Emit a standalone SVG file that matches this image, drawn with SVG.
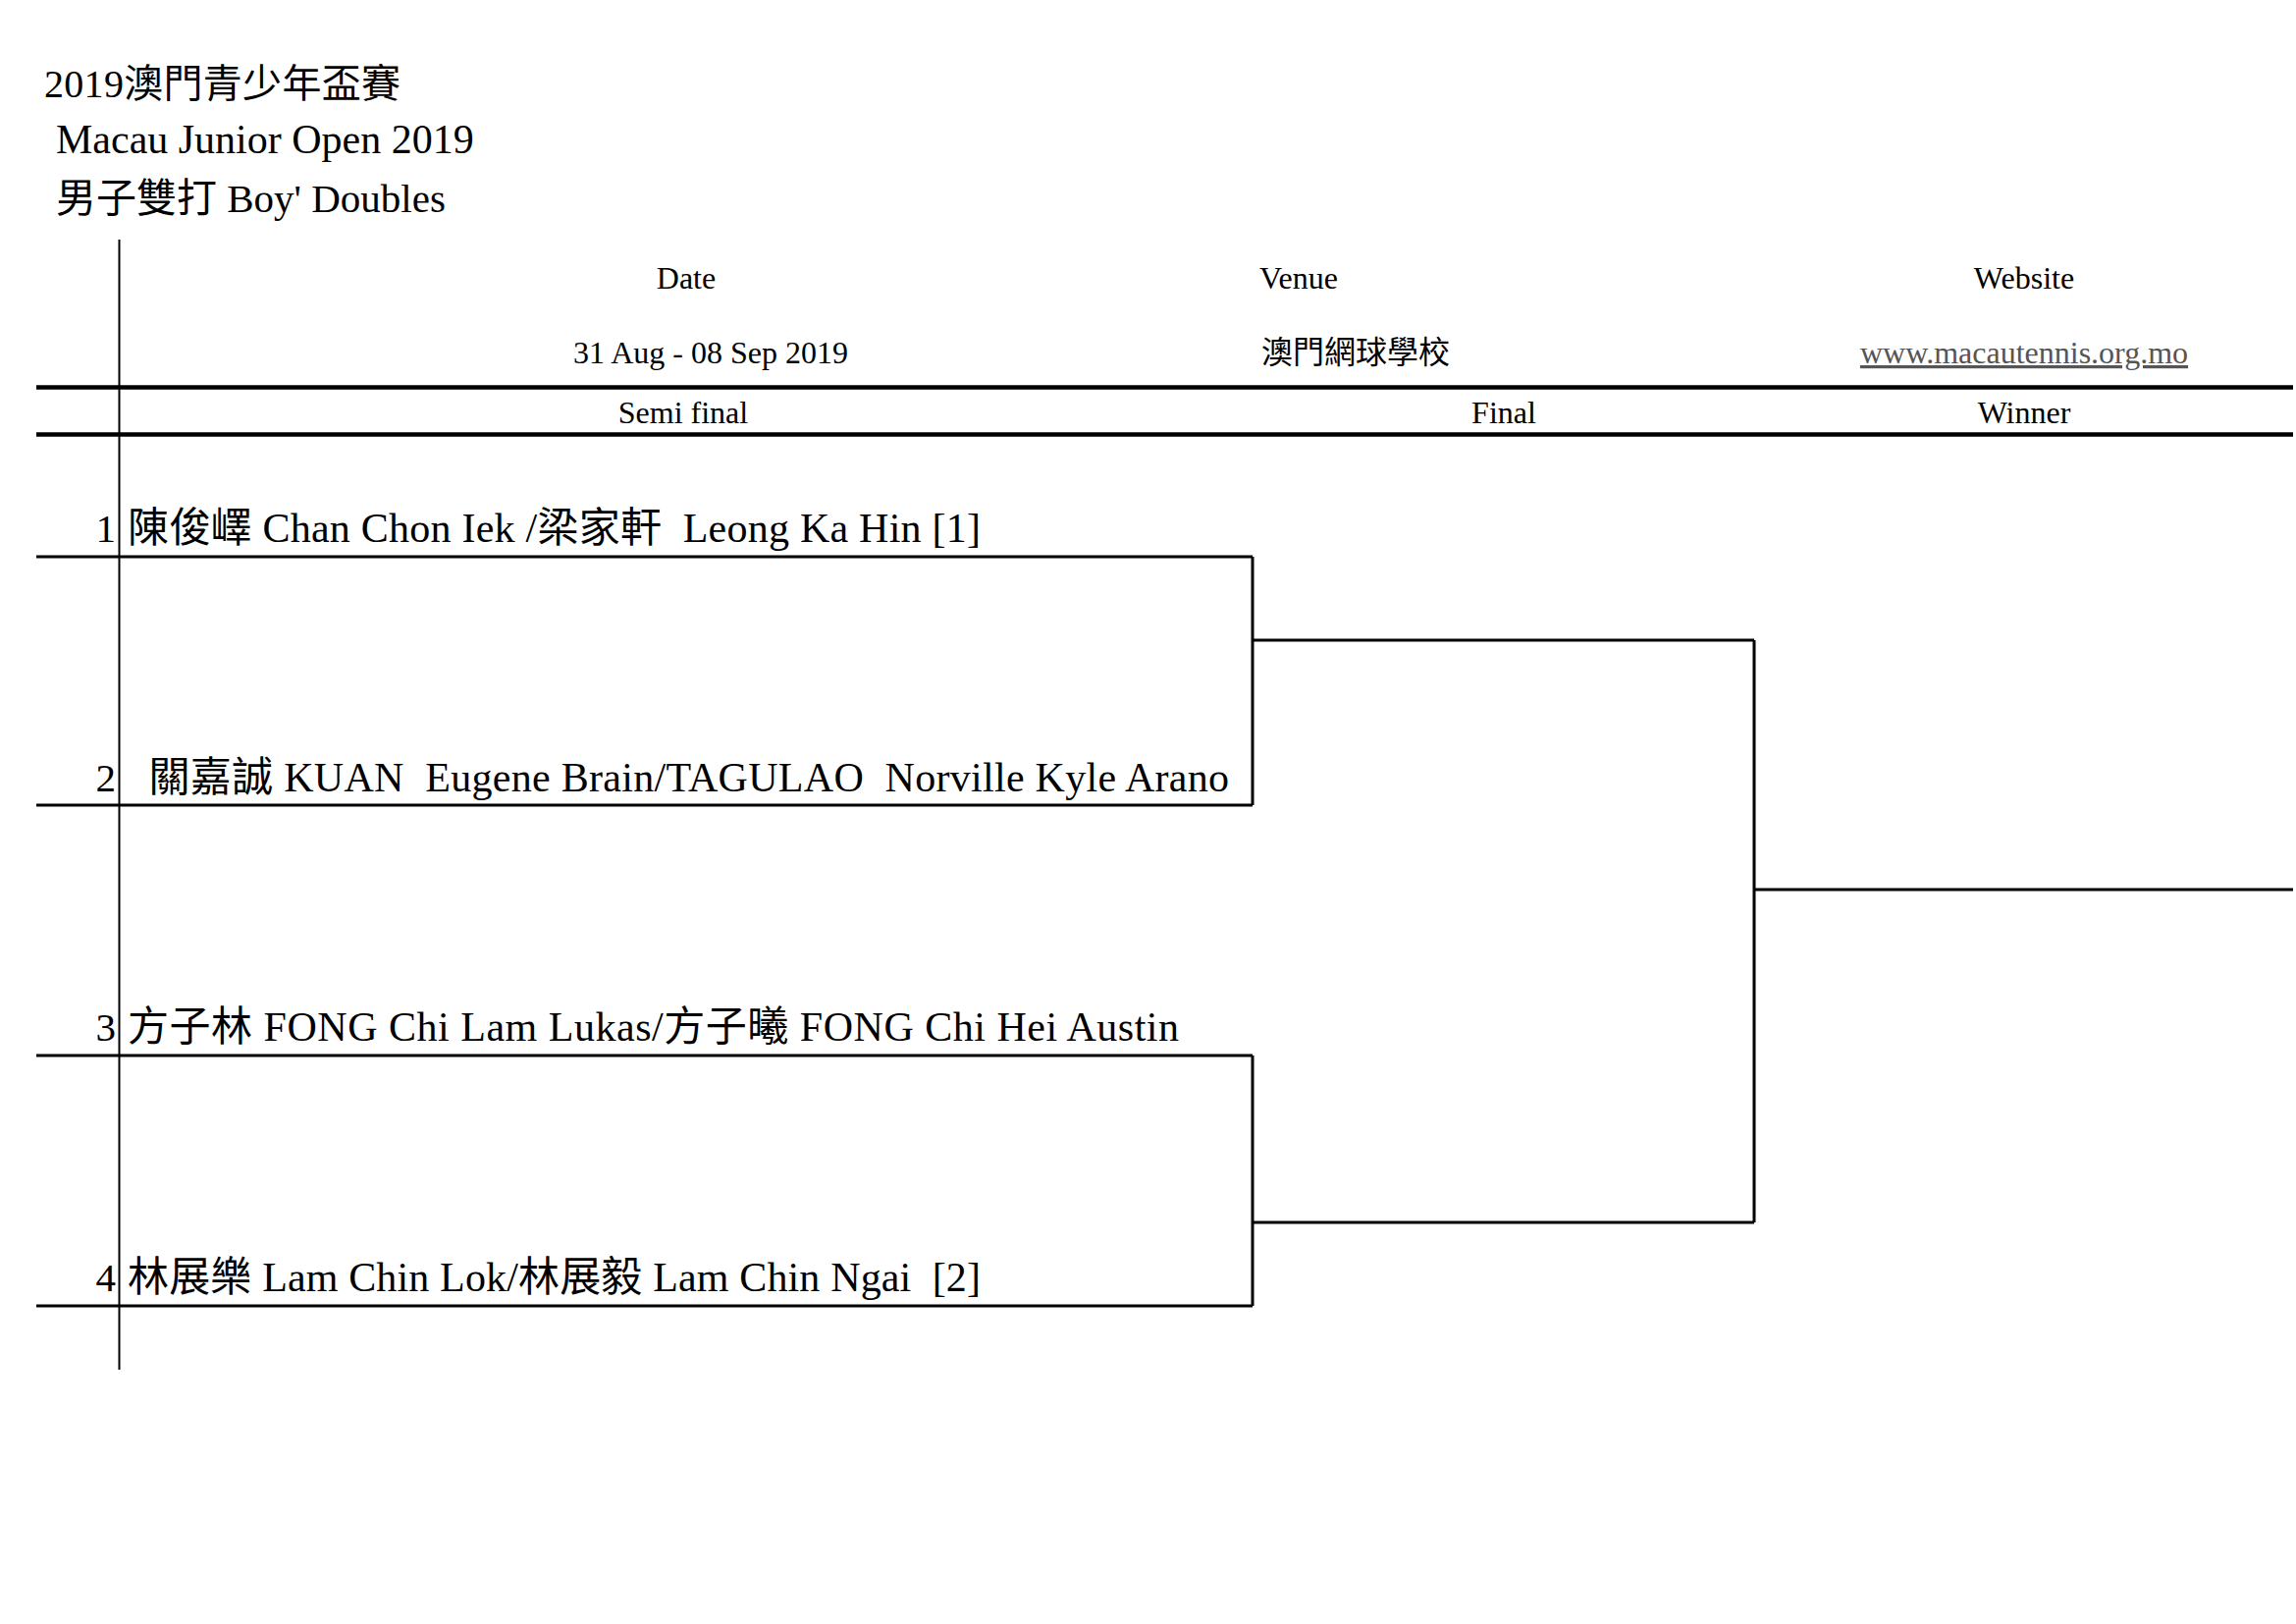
<svg xmlns="http://www.w3.org/2000/svg" width="2339" height="1654" viewBox="0 0 2339 1654">
<style>
text{font-family:"Liberation Serif","Noto Sans CJK TC",serif;fill:#000;white-space:pre}
.t{font-size:41px}
.h{font-size:32px;text-anchor:middle}
.r{font-size:42px}
.n{font-size:41px;text-anchor:end}
.url{fill:#555;text-decoration:underline}
.thick{stroke:#000;stroke-width:4.5;fill:none}
.ln{stroke:#000;stroke-width:3;fill:none}
.thin{stroke:#000;stroke-width:2;fill:none}
</style>
<rect width="2339" height="1654" fill="#fff"/>
<g id="title">
<text class="t" x="45" y="99" style="font-size:40px" textLength="363" lengthAdjust="spacing">2019澳門青少年盃賽</text>
<text class="t" x="57" y="156" style="font-size:42px">Macau Junior Open 2019</text>
<text class="t" x="57" y="216">男子雙打 Boy' Doubles</text>
</g>
<g id="header">
<text class="h" x="699" y="294">Date</text>
<text class="h" x="1323" y="294">Venue</text>
<text class="h" x="2062" y="294">Website</text>
<text class="h" x="724" y="370">31 Aug - 08 Sep 2019</text>
<text class="h" x="1381" y="370">澳門網球學校</text>
<text class="h url" x="2062" y="370">www.macautennis.org.mo</text>
<text class="h" x="696" y="431">Semi final</text>
<text class="h" x="1532" y="431">Final</text>
<text class="h" x="2062" y="431">Winner</text>
</g>
<g id="grid">
<line class="thin" x1="121.5" y1="244" x2="121.5" y2="1395"/>
<line class="thick" x1="37" y1="394.5" x2="2336" y2="394.5"/>
<line class="thick" x1="37" y1="442.5" x2="2336" y2="442.5"/>
</g>
<g id="entry1">
<text class="n" x="118" y="552">1</text>
<text class="r" x="130" y="552" textLength="869" lengthAdjust="spacing">陳俊嶧 Chan Chon Iek /梁家軒  Leong Ka Hin [1]</text>
<line class="ln" x1="37" y1="567" x2="1276" y2="567"/>
</g>
<g id="entry2">
<text class="n" x="118" y="806">2</text>
<text class="r" x="130" y="806" textLength="1122" lengthAdjust="spacing">  關嘉誠 KUAN  Eugene Brain/TAGULAO  Norville Kyle Arano</text>
<line class="ln" x1="37" y1="820" x2="1276" y2="820"/>
</g>
<g id="entry3">
<text class="n" x="118" y="1060">3</text>
<text class="r" x="130" y="1060" textLength="1071" lengthAdjust="spacing">方子林 FONG Chi Lam Lukas/方子曦 FONG Chi Hei Austin</text>
<line class="ln" x1="37" y1="1075" x2="1276" y2="1075"/>
</g>
<g id="entry4">
<text class="n" x="118" y="1315">4</text>
<text class="r" x="130" y="1315" textLength="869" lengthAdjust="spacing">林展樂 Lam Chin Lok/林展毅 Lam Chin Ngai  [2]</text>
<line class="ln" x1="37" y1="1330" x2="1276" y2="1330"/>
</g>
<g id="connectors">
<polyline class="ln" points="1276,567 1276,820"/>
<polyline class="ln" points="1276,1075 1276,1330"/>
<line class="ln" x1="1276" y1="652" x2="1787" y2="652"/>
<line class="ln" x1="1276" y1="1245" x2="1787" y2="1245"/>
<polyline class="ln" points="1787,652 1787,1245"/>
<line class="ln" x1="1787" y1="906" x2="2336" y2="906"/>
</g>
</svg>
